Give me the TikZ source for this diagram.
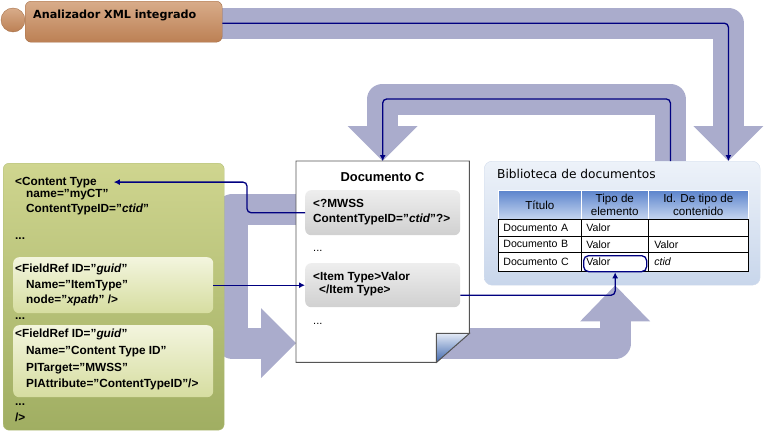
\documentclass[tikz,border=0pt]{standalone}
\usepackage{fontspec}
\setmainfont{Liberation Sans}
\newfontfamily\tahoma{DejaVu Sans}
\usepackage{xcolor}
\usepackage{tikz}
\usetikzlibrary{arrows.meta}
\usetikzlibrary{backgrounds}

\definecolor{bandblue}{RGB}{170,172,204}
\definecolor{linknavy}{RGB}{0,0,128}
\definecolor{browntop}{RGB}{216,172,138}
\definecolor{brownbot}{RGB}{188,128,84}
\definecolor{brownline}{RGB}{165,110,70}
\definecolor{greentop}{RGB}{207,213,143}
\definecolor{greenbot}{RGB}{160,174,98}
\definecolor{greenline}{RGB}{178,190,122}
\definecolor{subtop}{RGB}{243,245,222}
\definecolor{subbot}{RGB}{214,221,160}
\definecolor{graytop}{RGB}{238,238,238}
\definecolor{graybot}{RGB}{208,208,208}
\definecolor{libtop}{RGB}{237,242,249}
\definecolor{libbot}{RGB}{200,214,235}
\definecolor{libline}{RGB}{210,220,236}
\definecolor{headtop}{RGB}{92,132,204}
\definecolor{headbot}{RGB}{198,214,240}
\definecolor{foldlight}{RGB}{226,233,246}
\definecolor{folddark}{RGB}{62,102,172}
\definecolor{pageline}{RGB}{85,85,85}

\tikzset{
  band/.style={draw=bandblue, line width=31pt, line join=round},
  link/.style={draw=linknavy, line width=1.3pt, rounded corners=4pt, -{Latex[length=6pt,width=6pt]}},
  xml/.style={anchor=base west, inner sep=0pt, font=\bfseries\fontsize{11.8}{14}\selectfont},
  plaindots/.style={anchor=base west, inner sep=0pt, font=\fontsize{11}{13}\selectfont},
  greenbox/.style={anchor=north west, rounded corners=6pt, draw=greenline, top color=greentop, bottom color=greenbot},
  subbox/.style={anchor=north west, rounded corners=6pt, top color=subtop, bottom color=subbot, minimum width=200pt},
  graybox/.style={anchor=north west, rounded corners=6pt, top color=graytop, bottom color=graybot, minimum width=155pt},
  headcell/.style={anchor=north west, minimum height=29pt, inner sep=0pt, align=center, draw=white, line width=0.6pt,
    top color=headtop, bottom color=headbot, font=\fontsize{11.6}{13.3}\selectfont},
  cell/.style={anchor=north west, draw=black, fill=white, line width=0.7pt, inner xsep=5pt, inner ysep=0pt, align=left,
    font=\fontsize{10.6}{12}\selectfont},
}

\begin{document}
\begin{tikzpicture}[x=1pt, y=-1pt]
\useasboundingbox (0,0) rectangle (764,431);

% parser
\node (knob) [circle, minimum size=24pt, inner sep=0pt, draw=brownline, top color=browntop, bottom color=brownbot] at (13,20) {};
\node (parser) [anchor=north west, minimum width=197pt, text width=181pt, inner xsep=8pt, inner ysep=4pt,
  text height=13.5pt, text depth=19.5pt, align=left, rounded corners=6pt, draw=brownline,
  top color=browntop, bottom color=brownbot, font=\tahoma\bfseries\fontsize{11.2}{13}\selectfont] at (25,1) {Analizador XML integrado};

% content type definition
\node (ctbox) [greenbox, minimum width=221pt, minimum height=267pt] at (3,163) {};
\node (itemref) [subbox, minimum height=56pt] at (13,257) {};
\node (ctidref) [subbox, minimum height=72pt] at (13,325) {};
\node (ctype) [xml] at (15,185) {<Content Type};
\node (ctname) [xml] at (26,197) {name=”myCT”};
\node (ctidattr) [xml] at (26,212) {ContentTypeID=”\textit{ctid}”};
\node (ctdots1) [xml] at (15,239.5) {...};
\node (irhead) [xml] at (15,272.5) {<FieldRef ID=”\textit{guid}”};
\node (irname) [xml] at (26,288) {Name=”ItemType”};
\node (irnode) [xml] at (26,303.5) {node=”\textit{xpath}” />};
\node (ctdots2) [xml] at (15,319.5) {...};
\node (cihead) [xml] at (15,337.5) {<FieldRef ID=”\textit{guid}”};
\node (ciname) [xml] at (26,354) {Name=”Content Type ID”};
\node (citarget) [xml] at (26,371) {PITarget=”MWSS”};
\node (ciattr) [xml] at (26,387.5) {PIAttribute=”ContentTypeID”/>};
\node (ctdots3) [xml] at (15,405.5) {...};
\node (ctclose) [xml] at (15,421) {/>};

% document C
\node (doc) [anchor=north west, minimum width=173pt, minimum height=201pt, inner sep=0pt] at (296,161) {};
\filldraw[fill=white, draw=pageline, line width=0.9pt] (doc.north west) -- (doc.north east) -- ([yshift=29pt]doc.south east)
  -- ([xshift=-33pt]doc.south east) -- (doc.south west) -- cycle;
\shade[top color=foldlight, bottom color=folddark] ([xshift=-33pt,yshift=29pt]doc.south east) -- ([yshift=29pt]doc.south east)
  -- ([xshift=-33pt]doc.south east) -- cycle;
\draw[pageline, line width=0.9pt] ([xshift=-33pt,yshift=29pt]doc.south east) -- ([yshift=29pt]doc.south east)
  -- ([xshift=-33pt]doc.south east) -- cycle;
\node (doctitle) [font=\bfseries\fontsize{12.9}{15}\selectfont, inner sep=0pt] at (382.5,177) {Documento C};
\node (mwss) [graybox, minimum height=45pt] at (305,190) {};
\node (itembox) [graybox, minimum height=44pt] at (305,263) {};
\node (mwss1) [xml] at (313,207) {<?MWSS};
\node (mwss2) [xml] at (313,222) {ContentTypeID=”\textit{ctid}”?>};
\node (docdots1) [plaindots] at (313,251) {...};
\node (item1) [xml] at (313,280) {<Item Type>Valor};
\node (item2) [xml] at (319,293.5) {</Item Type>};
\node (docdots2) [plaindots] at (313,324) {...};

% library
\node (biblio) [anchor=north west, minimum width=276pt, minimum height=124pt, rounded corners=8pt,
  draw=libline, top color=libtop, bottom color=libbot] at (484,161) {};
\node (bibtitle) [anchor=base west, inner sep=0pt, font=\tahoma\fontsize{12.2}{14}\selectfont] at (497,178.5) {Biblioteca de documentos};
\node (htitle) [headcell, minimum width=83pt] at (498,190) {Título};
\node (htype) [headcell, minimum width=67pt] at (581,190) {Tipo de\\elemento};
\node (hid) [headcell, minimum width=100pt] at (648,190) {Id. De tipo de\\contenido};
\foreach \rowid/\rowlbl/\rowy/\rowh/\rowval in {a/A/219/17/{}, b/B/236/16/Valor, c/C/252/19/\textit{ctid}} {
  \node (row\rowid-title) [cell, text width=73pt, minimum height=\rowh pt] at (498,\rowy) {Documento \rowlbl};
  \node (row\rowid-type) [cell, text width=57pt, minimum height=\rowh pt] at (581,\rowy) {Valor};
  \node (row\rowid-id) [cell, text width=88pt, inner xsep=6pt, minimum height=\rowh pt] at (648,\rowy) {\rowval};
}
\node (valorring) [anchor=north west, minimum width=63pt, minimum height=16pt, rounded corners=5pt,
  draw=linknavy, line width=1.3pt] at (583,255) {};

\coordinate (intip) at ([yshift=-182pt]doc.north west);
\coordinate (uptip) at (valorring.south |- biblio.south);

% broad arrows
\begin{scope}[on background layer]
\draw[band] ([xshift=-10pt,yshift=-1.5pt]parser.east) -| ([xshift=-32pt,yshift=35pt]biblio.north east);
\fill[bandblue] ([xshift=-32pt]biblio.north east) -- ++(-35,-35) -- ++(70,0) -- cycle;
\draw[band] ([xshift=-90pt,yshift=-20pt]biblio.north east) -- ++(0,-82) -| ([yshift=35pt]doc.north);
\fill[bandblue] (doc.north) -- ++(-35,-35) -- ++(70,0) -- cycle;
\draw[band] ([xshift=30pt,yshift=-48pt]doc.north west) -- ++(-94,0) |- ([xshift=-35pt]intip);
\fill[bandblue] (intip) -- ++(-35,-35) -- ++(0,70) -- cycle;
\draw[band] ([xshift=-40pt,yshift=19pt]doc.south east) -| ([yshift=-36pt]uptip);
\fill[bandblue] (uptip) -- ++(-35,36) -- ++(70,0) -- cycle;
\end{scope}

% thin links
\draw[link] ([yshift=-1.5pt]parser.east) -| ([xshift=-32pt]biblio.north east);
\draw[link] ([xshift=-90pt]biblio.north east) -- ++(0,-62) -| (doc.north);
\draw[link] (mwss.west) -- ++(-58,0) |- ([xshift=17pt]ctype.east);
\draw[link] (itemref.east) -- (itembox.west);
\draw[link] ([yshift=-10pt]itembox.east) -| (valorring.south);

\end{tikzpicture}
\end{document}
